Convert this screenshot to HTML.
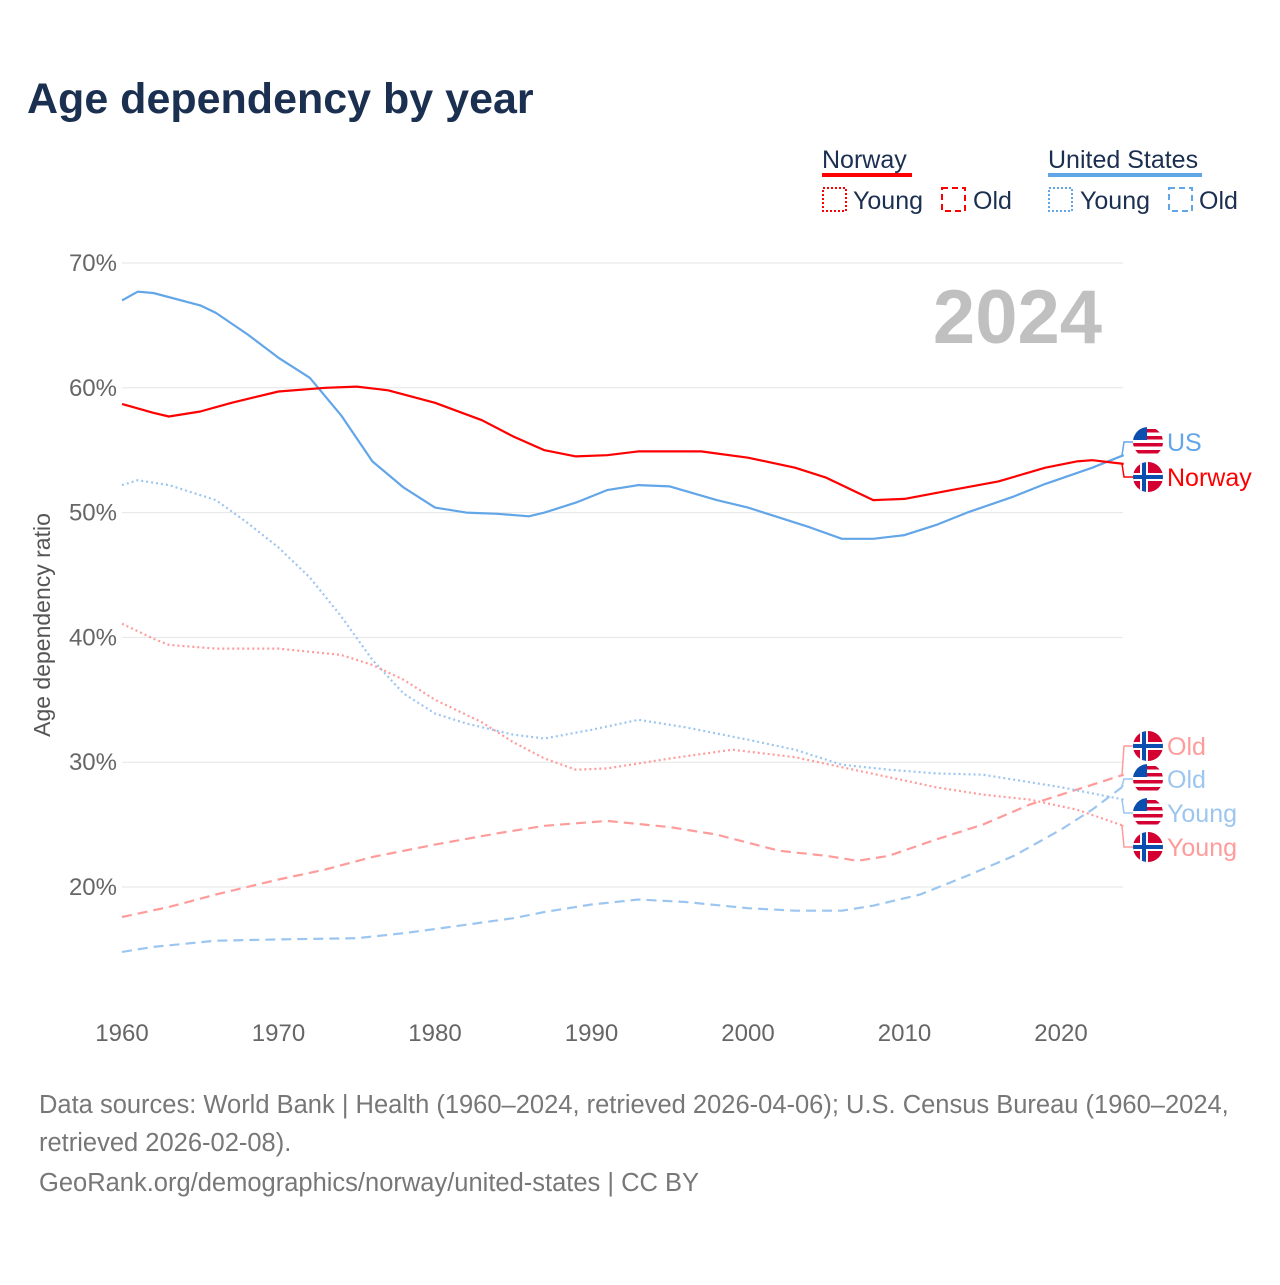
<!DOCTYPE html>
<html><head><meta charset="utf-8"><style>
body{margin:0;background:#fff;font-family:"Liberation Sans",sans-serif}
svg text{font-family:"Liberation Sans",sans-serif}
</style></head><body>
<svg id="chart" width="1280" height="1280" viewBox="0 0 1280 1280" xmlns="http://www.w3.org/2000/svg">
<defs>
<clipPath id="fc"><circle cx="0" cy="0" r="15"/></clipPath>
<g id="flag-no"><g clip-path="url(#fc)"><rect x="-15" y="-15" width="30" height="30" fill="#d50032"/><rect x="-15" y="-4" width="30" height="8" fill="#fff"/><rect x="-8" y="-15" width="8" height="30" fill="#fff"/><rect x="-15" y="-2" width="30" height="4" fill="#0a4fb0"/><rect x="-6" y="-15" width="4" height="30" fill="#0a4fb0"/></g></g>
<g id="flag-us"><g clip-path="url(#fc)"><rect x="-15" y="-15" width="30" height="30" fill="#fff"/><rect x="-15" y="-13" width="30" height="3.5" fill="#d50032"/><rect x="-15" y="-6" width="30" height="3.5" fill="#d50032"/><rect x="-15" y="1" width="30" height="3.5" fill="#d50032"/><rect x="-15" y="8" width="30" height="3.5" fill="#d50032"/><rect x="-15" y="-15" width="14" height="13" fill="#0a4fb0"/></g></g>
</defs>
<text x="27" y="113" font-size="43" font-weight="bold" fill="#1b2f50">Age dependency by year</text>
<g font-size="25" fill="#1b2f50">
<text x="822" y="168">Norway</text><rect x="822" y="173" width="90" height="4" fill="#f00"/>
<rect x="823" y="188" width="23" height="23" fill="none" stroke="#f00" stroke-width="2" stroke-dasharray="2,2"/><text x="853" y="209">Young</text>
<rect x="942" y="188" width="23" height="23" fill="none" stroke="#f00" stroke-width="2" stroke-dasharray="6,4"/><text x="973" y="209">Old</text>
<text x="1048" y="168">United States</text><rect x="1048" y="173" width="154" height="4" fill="#62a6e8"/>
<rect x="1049" y="188" width="23" height="23" fill="none" stroke="#62a6e8" stroke-width="2" stroke-dasharray="2,2"/><text x="1080" y="209">Young</text>
<rect x="1169" y="188" width="23" height="23" fill="none" stroke="#62a6e8" stroke-width="2" stroke-dasharray="6,4"/><text x="1199" y="209">Old</text>
</g>
<text x="1102" y="343" font-size="76" font-weight="bold" fill="#c0c0c0" text-anchor="end">2024</text>
<text transform="translate(50,625) rotate(-90)" font-size="23" fill="#555" text-anchor="middle">Age dependency ratio</text>
<g id="grid"></g><g id="series"></g><g id="endlabels"></g>
<g font-size="25.5" fill="#777">
<text x="39" y="1113">Data sources: World Bank | Health (1960–2024, retrieved 2026-04-06); U.S. Census Bureau (1960–2024,</text>
<text x="39" y="1151">retrieved 2026-02-08).</text>
<text x="39" y="1191">GeoRank.org/demographics/norway/united-states | CC BY</text>
</g>
</svg>
<script>
const yTicks=[20,30,40,50,60,70];
const xTicks=[1960,1970,1980,1990,2000,2010,2020];
const noTotalYears=[1960,1962,1963,1965,1967,1970,1973,1975,1977,1980,1983,1985,1987,1989,1991,1993,1997,2000,2003,2005,2008,2010,2013,2016,2019,2021,2022,2024];
const noTotal=[58.7,58.0,57.7,58.1,58.8,59.7,60.0,60.1,59.8,58.8,57.4,56.1,55.0,54.5,54.6,54.9,54.9,54.4,53.6,52.8,51.0,51.1,51.8,52.5,53.6,54.1,54.2,53.9];
const usTotalYears=[1960,1961,1962,1965,1966,1968,1970,1972,1974,1976,1978,1980,1982,1984,1986,1987,1989,1991,1993,1995,1998,2000,2002,2004,2006,2008,2010,2012,2014,2017,2019,2022,2024];
const usTotal=[67.0,67.7,67.6,66.6,66.0,64.3,62.4,60.8,57.8,54.1,52.0,50.4,50.0,49.9,49.7,50.0,50.8,51.8,52.2,52.1,51.0,50.4,49.6,48.8,47.9,47.9,48.2,49.0,50.0,51.3,52.3,53.6,54.6];
const usYoungYears=[1960,1961,1963,1966,1968,1970,1972,1974,1976,1978,1980,1982,1985,1987,1990,1993,1996,2000,2003,2006,2009,2012,2015,2018,2020,2024];
const usYoung=[52.2,52.6,52.2,51.0,49.2,47.2,44.8,41.7,38.2,35.5,33.9,33.1,32.2,31.9,32.6,33.4,32.8,31.8,31.0,29.8,29.4,29.1,29.0,28.4,28.0,27.0];
const noYoungYears=[1960,1962,1963,1966,1970,1974,1976,1978,1980,1983,1985,1987,1989,1991,1995,1999,2003,2006,2009,2012,2015,2018,2021,2024];
const noYoung=[41.1,39.9,39.4,39.1,39.1,38.6,37.8,36.6,35.0,33.2,31.6,30.3,29.4,29.5,30.3,31.0,30.4,29.6,28.8,28.0,27.4,27.0,26.2,24.9];
const noOldYears=[1960,1963,1966,1970,1973,1976,1980,1984,1987,1991,1995,1998,2002,2005,2007,2009,2012,2015,2018,2021,2024];
const noOld=[17.6,18.4,19.4,20.6,21.4,22.4,23.4,24.3,24.9,25.3,24.8,24.2,22.9,22.5,22.1,22.5,23.8,25.0,26.6,27.8,29.0];
const usOldYears=[1960,1962,1966,1970,1975,1978,1981,1985,1987,1990,1993,1996,2000,2003,2006,2008,2011,2014,2017,2020,2022,2024];
const usOld=[14.8,15.2,15.7,15.8,15.9,16.3,16.8,17.5,18.0,18.6,19.0,18.8,18.3,18.1,18.1,18.5,19.4,20.9,22.5,24.6,26.2,28.1];

const NS='http://www.w3.org/2000/svg';
const X=yr=>122+(yr-1960)*939/60;
const Y=v=>1136.6-v*12.48;
function mk(tag,attrs,parent,txt){const e=document.createElementNS(NS,tag);for(const k in attrs)e.setAttribute(k,attrs[k]);if(txt!==undefined)e.textContent=txt;parent.appendChild(e);return e;}
const grid=document.getElementById('grid');
yTicks.forEach(t=>{
  const l=mk('line',{x1:122,x2:1123,y1:Y(t),y2:Y(t),stroke:'#e6e6e6','stroke-width':1},grid);
  
  
  const tx=mk('text',{x:117,y:Y(t)+8,'font-size':24,fill:'#666','text-anchor':'end'},grid,t+'%');
  
  
});
xTicks.forEach(t=>{
  const tx=mk('text',{x:X(t),y:1041,'font-size':24,fill:'#666','text-anchor':'middle'},grid,String(t));
  
  
});
const ser=document.getElementById('series');
function line(years,vals,color,dash,name){
  const d=years.map((y,i)=>(i?'L':'M')+X(y).toFixed(1)+','+Y(vals[i]).toFixed(1)).join('');
  const p=mk('path',{d:d,fill:'none',stroke:color,'stroke-width':2.2,'stroke-dasharray':dash,'stroke-linejoin':'round'},ser);
  
  
}
line(usOldYears,usOld,'#9cc6f0','10,6','line-us-old');
line(noOldYears,noOld,'#ff9b9b','10,6','line-norway-old');
line(usYoungYears,usYoung,'#9cc6f0','2,3','line-us-young');
line(noYoungYears,noYoung,'#ff9b9b','2,3','line-norway-young');
line(usTotalYears,usTotal,'#62a6e8','','line-us-total');
line(noTotalYears,noTotal,'#f00','','line-norway-total');
const el=document.getElementById('endlabels');
const labels=[
 {v:usTotal[usTotal.length-1],y:442,flag:'us',text:'US',color:'#62a6e8',name:'end-label-us'},
 {v:noTotal[noTotal.length-1],y:477,flag:'no',text:'Norway',color:'#f00',name:'end-label-norway'},
 {v:noOld[noOld.length-1],y:746,flag:'no',text:'Old',color:'#ff9b9b',name:'end-label-norway-old'},
 {v:usOld[usOld.length-1],y:779,flag:'us',text:'Old',color:'#9cc6f0',name:'end-label-us-old'},
 {v:usYoung[usYoung.length-1],y:813,flag:'us',text:'Young',color:'#9cc6f0',name:'end-label-us-young'},
 {v:noYoung[noYoung.length-1],y:847,flag:'no',text:'Young',color:'#ff9b9b',name:'end-label-norway-young'}];
labels.forEach(L=>{
  const g=mk('g',{},el);
  
  
  const y0=Y(L.v);
  mk('path',{d:`M${X(2024)},${y0}L1122,${y0}L1124,${L.y}L1133,${L.y}`,fill:'none',stroke:L.color,'stroke-width':1.5},g);
  mk('use',{href:'#flag-'+L.flag,x:1148,y:L.y},g);
  mk('text',{x:1167,y:L.y+9,'font-size':25,fill:L.color},g,L.text);
});
</script>
</body></html>
